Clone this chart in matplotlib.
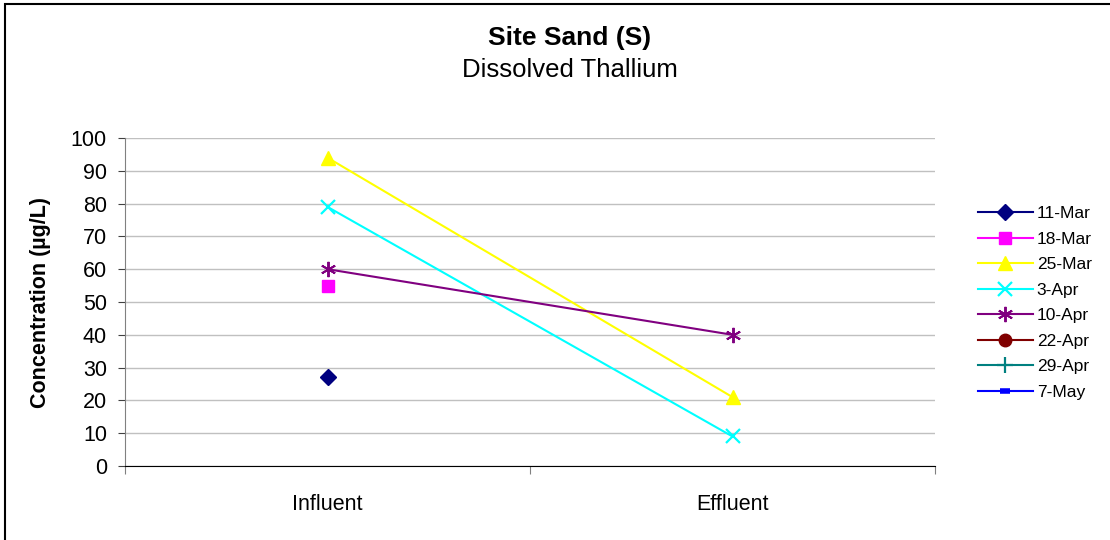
import numpy as np
import matplotlib
matplotlib.use("Agg")
import matplotlib.pyplot as plt
from matplotlib.patches import Rectangle

plt.rcParams['font.family'] = ['Liberation Sans', 'DejaVu Sans']

# data
categories = ["Influent", "Effluent"]
dates = ["11-Mar", "18-Mar", "25-Mar", "3-Apr", "10-Apr", "22-Apr", "29-Apr", "7-May"]
v_11mar = [27, np.nan]
v_18mar = [55, np.nan]
v_25mar = [94, 21]
v_3apr = [79, 9]
v_10apr = [60, 40]
v_22apr = [np.nan, np.nan]
v_29apr = [np.nan, np.nan]
v_7may = [np.nan, np.nan]
series = [v_11mar, v_18mar, v_25mar, v_3apr, v_10apr, v_22apr, v_29apr, v_7may]

colors = ["#000080", "#FF00FF", "#FFFF00", "#00FFFF", "#800080", "#800000", "#008080", "#0000FF"]
markers = ["D", "s", "^", "x", (6, 2, 0), "o", "+", "_"]
msizes = [8, 8, 10, 10, 11, 9, 12, 7]
mews = [1, 1, 1, 1.6, 1.4, 1, 1.6, 4]

fig = plt.figure(figsize=(11.1, 5.4), dpi=100)
ax = fig.add_axes([125 / 1110, 1 - 466 / 540, 810 / 1110, 328 / 540])

# outer frame running off the right/bottom edge
fig.patches.append(Rectangle((5 / 1110, -0.1), 1.2, 1.1 - 4 / 540, transform=fig.transFigure,
                             fill=False, edgecolor="black", linewidth=1.5))

x = np.arange(len(categories))
for name, vals, c, m, ms, mew in zip(dates, series, colors, markers, msizes, mews):
    ax.plot(x, vals, color=c, marker=m, markersize=ms, markeredgewidth=mew,
            markerfacecolor=c, markeredgecolor=c, linewidth=1.5, label=name, clip_on=False)

ax.set_xlim(-0.5, 1.5)
ax.set_ylim(0, 100)
ax.set_yticks(np.arange(0, 101, 10))
ax.yaxis.grid(True, color="#C0C0C0", linewidth=1)
ax.set_axisbelow(True)

ax.set_xticks([-0.5, 0.5, 1.5])
ax.set_xticklabels([])
ax.set_xticks(x, minor=True)
ax.set_xticklabels(categories, minor=True)
ax.tick_params(axis="x", which="minor", length=0, pad=20, labelsize=15.5)
ax.tick_params(axis="x", which="major", length=6, direction="out", color="#808080")
ax.tick_params(axis="y", length=5, direction="out", labelsize=15.5, pad=8, color="#404040")

for s in ["top", "right"]:
    ax.spines[s].set_visible(False)
ax.spines["left"].set_color("#808080")
ax.spines["bottom"].set_color("black")

ax.set_ylabel("Concentration (µg/L)", fontsize=15.5, fontweight="bold", labelpad=14)

fig.text(570 / 1110, 1 - 38 / 540, "Site Sand (S)", ha="center", va="center",
         fontsize=19, fontweight="bold")
fig.text(570 / 1110, 1 - 70 / 540, "Dissolved Thallium", ha="center", va="center",
         fontsize=18.5)

leg = fig.legend(loc="center left", bbox_to_anchor=(962 / 1110, 1 - 303 / 540),
                 frameon=False, fontsize=12.5, handlelength=3.2, labelspacing=0.6,
                 handletextpad=0.2)

fig.savefig("out.png", dpi=100)
